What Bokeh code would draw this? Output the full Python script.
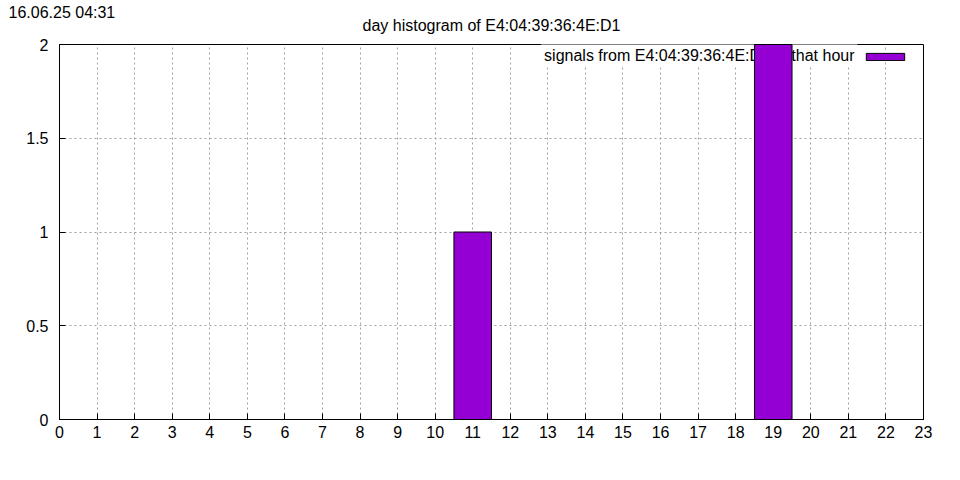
from bokeh.plotting import figure
from bokeh.models import Range1d, FixedTicker, Label, Legend, LegendItem
from bokeh.embed import file_html
from bokeh.resources import INLINE

# ---- data ----
hours = [0, 1, 2, 3, 4, 5, 6, 7, 8, 9, 10, 11, 12, 13, 14, 15, 16, 17, 18, 19, 20, 21, 22, 23]
counts = [0, 0, 0, 0, 0, 0, 0, 0, 0, 0, 0, 1, 0, 0, 0, 0, 0, 0, 0, 2, 0, 0, 0, 0]
x_ticks = list(range(0, 24))
y_ticks = [0, 0.5, 1, 1.5, 2]
y_tick_labels = ["0", "0.5", "1", "1.5", "2"]
title_text = "day histogram of E4:04:39:36:4E:D1"
stamp_text = "16.06.25 04:31"
legend_text = "signals from E4:04:39:36:4E:D1 in that hour"

FONT = "Liberation Sans"
BAR_COLOR = "#9400d3"

p = figure(width=960, height=480, output_backend="svg", toolbar_location=None,
           x_range=Range1d(0, 23), y_range=Range1d(0, 2),
           min_border_left=59, min_border_right=37, min_border_top=44, min_border_bottom=61)

p.background_fill_color = "white"
p.border_fill_color = "white"
p.outline_line_color = "black"
p.outline_line_width = 1

p.title.text = title_text
p.title.align = "center"
p.title.text_font = FONT
p.title.text_font_size = "16px"
p.title.text_font_style = "normal"
p.title.text_color = "black"
p.title.standoff = 21

bars = p.vbar(x=hours, top=counts, bottom=0, width=1.0, fill_color=BAR_COLOR,
              line_color="black", line_width=1, level="overlay")

# axes
p.xaxis.ticker = FixedTicker(ticks=x_ticks)
p.yaxis.ticker = FixedTicker(ticks=y_ticks)
p.yaxis.major_label_overrides = {t: l for t, l in zip(y_ticks, y_tick_labels)}
for ax in (p.xaxis, p.yaxis):
    ax.axis_line_color = "black"
    ax.major_tick_line_color = "black"
    ax.major_tick_in = 6
    ax.major_tick_out = 0
    ax.minor_tick_line_color = None
    ax.major_label_text_font = FONT
    ax.major_label_text_font_size = "16px"
    ax.major_label_text_color = "black"
p.xaxis.major_label_standoff = 6
p.yaxis.major_label_standoff = 11

# grid
for g in (p.xgrid, p.ygrid):
    g.grid_line_color = "#a0a0a0"
    g.grid_line_dash = "2 3"
    g.grid_line_width = 1

# timestamp top-left (canvas units; hosted in the roomy bottom panel)
stamp = Label(x=8, y=3, x_units="canvas", y_units="canvas", text=stamp_text,
              text_font=FONT, text_font_size="16px", text_baseline="top",
              text_align="left", text_color="black", level="overlay")
p.add_layout(stamp, "below")

# legend text (label left of swatch, gnuplot-style)
leg_label = Label(x=798, y=364, x_units="screen", y_units="screen", text=legend_text,
                  text_font=FONT, text_font_size="16px", text_baseline="middle",
                  text_align="right", text_color="black",
                  background_fill_color="white", background_fill_alpha=1.0, padding=3)
p.add_layout(leg_label)

legend = Legend(items=[LegendItem(label="", renderers=[bars], index=19)],
                location=(802, 358), padding=0, margin=0, spacing=0,
                glyph_width=48, glyph_height=9, label_width=0, label_height=0,
                label_standoff=0, label_text_font_size="1px",
                border_line_color=None, background_fill_color="white",
                background_fill_alpha=1.0)
p.add_layout(legend)

open("out.html", "w").write(file_html(p, INLINE))
